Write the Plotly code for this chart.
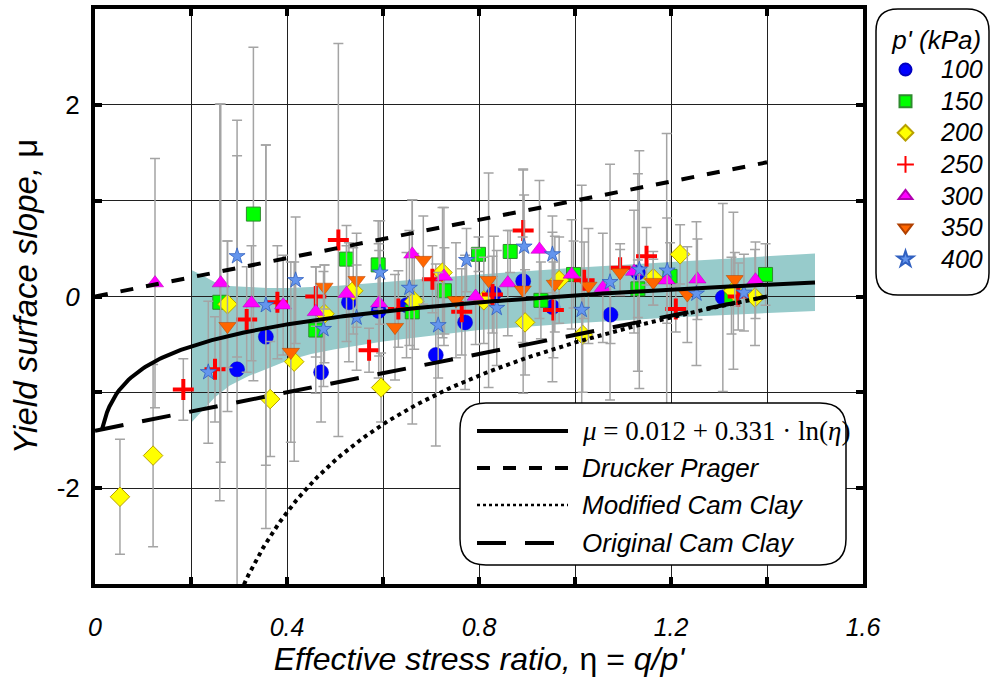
import plotly.graph_objects as go
import numpy as np

# ---- measured yield-surface slopes (mean and half-range) per confining pressure ----
eta_100 = [0.296, 0.356, 0.471, 0.529, 0.591, 0.649, 0.710, 0.771, 0.831, 0.892, 0.953, 1.074, 1.131, 1.308]
mu_100 = [-0.76, -0.42, -0.79, -0.06, -0.15, -0.09, -0.61, -0.27, 0.03, 0.16, -0.11, -0.19, 0.25, -0.01]
err_100 = [2.60, 2.00, 0.52, 0.62, 0.70, 0.55, 0.95, 0.70, 0.60, 1.17, 0.78, 0.30, 1.03, 0.98]

eta_150 = [0.26, 0.33, 0.46, 0.524, 0.59, 0.661, 0.728, 0.799, 0.865, 0.929, 0.997, 1.131, 1.198, 1.326, 1.397]
mu_150 = [-0.06, 0.86, -0.35, 0.39, 0.33, -0.16, 0.06, 0.44, 0.47, -0.04, 0.23, 0.08, 0.21, 0.01, 0.23]
err_150 = [2.07, 1.74, 0.66, 0.35, 0.46, 1.17, 0.45, 0.18, 0.22, 0.40, 0.35, 0.30, 0.35, 0.40, 0.32]

eta_200 = [0.052, 0.121, 0.276, 0.365, 0.415, 0.478, 0.538, 0.596, 0.665, 0.724, 0.81, 0.896, 0.967, 1.016,
           1.163, 1.219, 1.33, 1.375]
mu_200 = [-2.09, -1.66, -0.08, -1.07, -0.68, -0.18, 0.06, -0.95, -0.05, 0.25, -0.04, -0.27, 0.17, -0.40,
          0.19, 0.44, 0.06, -0.01]
err_200 = [0.60, 0.95, 0.66, 0.60, 1.04, 0.51, 0.45, 0.36, 0.50, 0.68, 0.45, 0.55, 0.45, 0.60,
           0.28, 0.31, 0.82, 0.50]

eta_250 = [0.184, 0.25, 0.316, 0.38, 0.46, 0.507, 0.571, 0.632, 0.703, 0.764, 0.828, 0.892, 0.955, 1.019,
           1.094, 1.149, 1.21, 1.34]
mu_250 = [-0.97, -0.76, -0.24, -0.06, 0.0, 0.59, -0.56, -0.13, 0.18, -0.16, 0.02, 0.69, -0.14, 0.17,
          0.30, 0.42, -0.13, 0.0]
err_250 = [0.32, 0.55, 0.55, 0.59, 0.31, 2.05, 0.23, 0.40, 0.35, 0.45, 0.40, 0.63, 0.50, 0.40,
           0.25, 0.30, 0.24, 0.35]

eta_300 = [0.125, 0.262, 0.326, 0.392, 0.46, 0.524, 0.592, 0.661, 0.727, 0.793, 0.86, 0.926, 0.993, 1.058,
           1.123, 1.191, 1.255, 1.376]
mu_300 = [0.14, 0.14, -0.07, -0.09, -0.16, 0.03, -0.07, 0.44, 0.21, 0.0, 0.14, 0.49, 0.23, 0.09,
          0.26, 0.17, 0.18, 0.17]
err_300 = [1.30, 1.87, 0.60, 0.52, 0.47, 0.50, 0.55, 0.57, 0.72, 0.50, 0.55, 0.72, 0.57, 0.57,
           0.64, 1.53, 0.42, 0.40]

eta_350 = [0.276, 0.408, 0.478, 0.545, 0.625, 0.684, 0.752, 0.82, 0.891, 0.958, 1.028, 1.094, 1.163, 1.234, 1.333]
mu_350 = [-0.31, -0.58, 0.10, 0.17, -0.32, 0.38, -0.04, 0.17, 0.07, 0.13, 0.11, 0.25, 0.15, 0.02, 0.18]
err_350 = [0.89, 0.94, 0.23, 0.49, 0.55, 0.46, 0.60, 1.12, 0.55, 0.50, 0.60, 0.24, 0.24, 0.50, 0.28]

eta_400 = [0.236, 0.296, 0.356, 0.418, 0.476, 0.545, 0.594, 0.655, 0.715, 0.774, 0.837, 0.894, 0.953, 1.014,
           1.073, 1.134, 1.192, 1.253, 1.352]
mu_400 = [-0.79, 0.42, -0.09, 0.17, -0.34, -0.22, 0.25, 0.09, -0.30, 0.38, -0.12, 0.52, 0.44, -0.14,
          0.15, 0.28, 0.27, 0.03, 0.04]
err_400 = [0.74, 1.05, 1.67, 0.66, 0.60, 0.55, 0.54, 0.60, 0.55, 0.33, 0.60, 0.54, 0.40, 1.30,
           1.23, 1.24, 0.55, 0.75, 0.40]

# ---- confidence band of the logarithmic fit ----
band_eta = [0.2, 0.22, 0.25, 0.28, 0.32, 0.36, 0.4, 0.45, 0.5, 0.6, 0.7, 0.8, 1.0, 1.2, 1.5]
band_upper = [0.28, 0.23, 0.15, 0.11, 0.10, 0.09, 0.09, 0.10, 0.11, 0.15, 0.19, 0.23, 0.30, 0.36, 0.45]
band_lower = [-1.32, -1.21, -1.05, -0.93, -0.83, -0.75, -0.67, -0.60, -0.55, -0.47, -0.41, -0.35, -0.28, -0.22, -0.15]

# ---- fitted law and reference models ----
fit_a, fit_b = 0.012, 0.331
fit_eta_min, fit_eta_max = 0.015, 1.5
M_cs = 1.4  # critical state stress ratio

x_tickvals = [0, 0.2, 0.4, 0.6, 0.8, 1.0, 1.2, 1.4, 1.6]
x_ticktext = ["<i>0</i>", "", "<i>0.4</i>", "", "<i>0.8</i>", "", "<i>1.2</i>", "", "<i>1.6</i>"]
y_tickvals = [-2, -1, 0, 1, 2]
y_ticktext = ["-2", "", "<i>0</i>", "", "2"]

series = [
    ("100", eta_100, mu_100, err_100, dict(symbol="circle", size=15, color="#0000FF",
                                           line=dict(color="#0000C0", width=0.5))),
    ("150", eta_150, mu_150, err_150, dict(symbol="square", size=14, color="#00FF00",
                                           line=dict(color="#2E8B2E", width=1))),
    ("200", eta_200, mu_200, err_200, dict(symbol="diamond", size=15, color="#FFFF00",
                                           line=dict(color="#B8A000", width=1))),
    ("250", eta_250, mu_250, err_250, dict(symbol="cross-thin", size=15, color="#FF0000",
                                           line=dict(color="#FF0000", width=4))),
    ("300", eta_300, mu_300, err_300, dict(symbol="triangle-up", size=15, color="#FF00FF",
                                           line=dict(color="#B000B0", width=0.5))),
    ("350", eta_350, mu_350, err_350, dict(symbol="triangle-down", size=15, color="#FF6600",
                                           line=dict(color="#B04000", width=0.5))),
    ("400", eta_400, mu_400, err_400, dict(symbol="star", size=12, color="#6495ED",
                                           line=dict(color="#3060C0", width=0.8))),
]

FONT = "Liberation Sans, Arial, sans-serif"
FIG_W, FIG_H = 992, 678

fig = go.Figure()

# plot-area geometry in pixels (used for the hand-drawn line legend and boxes)
L, T, W, H = 95, 9, 768, 575


def px2paper(px, py):
    return (px - L) / W, (T + H - py) / H


def rounded_box(x0, y0, x1, y1, r):
    pts = [("M", [(x0 + r, y0)]), ("L", [(x1 - r, y0)]), ("Q", [(x1, y0), (x1, y0 + r)]),
           ("L", [(x1, y1 - r)]), ("Q", [(x1, y1), (x1 - r, y1)]), ("L", [(x0 + r, y1)]),
           ("Q", [(x0, y1), (x0, y1 - r)]), ("L", [(x0, y0 + r)]), ("Q", [(x0, y0), (x0 + r, y0)])]
    parts = []
    for cmd, coords in pts:
        c = " ".join("%.5f,%.5f" % px2paper(a, b) for a, b in coords)
        parts.append(cmd + c)
    return " ".join(parts) + " Z"


# band drawn under the gridlines
band_path = "M" + " L".join("%g,%g" % (x, y) for x, y in zip(band_eta, band_upper))
band_path += " L" + " L".join("%g,%g" % (x, y) for x, y in zip(band_eta[::-1], band_lower[::-1])) + " Z"
fig.add_shape(type="path", path=band_path, xref="x", yref="y", fillcolor="#97CBCB",
              line=dict(width=0), layer="below")

# measured points with scatter bars
for name, ex, mu, er, mk in series:
    fig.add_trace(go.Scatter(
        x=ex, y=mu, mode="markers", name="<span style='font-size:25px'>%s</span>" % name, marker=mk,
        error_y=dict(type="data", array=er, visible=True, color="#A4A4A4", thickness=1.5, width=5),
    ))

# fitted curve
eta_fit = np.linspace(fit_eta_min, fit_eta_max, 300)
fig.add_trace(go.Scatter(x=eta_fit, y=fit_a + fit_b * np.log(eta_fit), mode="lines",
                         line=dict(color="black", width=4), showlegend=False))
# Drucker-Prager
eta_dp = np.linspace(0, M_cs, 50)
fig.add_trace(go.Scatter(x=eta_dp, y=eta_dp, mode="lines",
                         line=dict(color="black", width=4, dash="13px,13px"), showlegend=False))
# Modified Cam Clay
eta_mcc = np.linspace(0.29, M_cs, 300)
fig.add_trace(go.Scatter(x=eta_mcc, y=(eta_mcc ** 2 - M_cs ** 2) / (2 * eta_mcc), mode="lines",
                         line=dict(color="black", width=4, dash="4px,4px"), showlegend=False))
# Original Cam Clay
eta_occ = np.linspace(0, M_cs, 50)
fig.add_trace(go.Scatter(x=eta_occ, y=eta_occ - M_cs, mode="lines",
                         line=dict(color="black", width=4, dash="29px,19px"), showlegend=False))

# boxes for both legends
fig.add_shape(type="path", path=rounded_box(876, 9, 989, 295, 22), xref="paper", yref="paper",
              fillcolor="white", line=dict(color="black", width=1.5), layer="above")
fig.add_shape(type="path", path=rounded_box(460, 403, 846, 565, 26), xref="paper", yref="paper",
              fillcolor="white", line=dict(color="black", width=1.5), layer="above")

# line legend entries
line_items = [
    ("<i>μ</i> = 0.012 + 0.331 · ln(<i>η</i>)", "solid", 4, 431, "Liberation Serif, Times New Roman, serif", 27),
    ("<i>Drucker Prager</i>", "13px,13px", 4, 468, FONT, 26),
    ("<i>Modified Cam Clay</i>", "dot", 2.5, 505, FONT, 26),
    ("<i>Original Cam Clay</i>", "29px,19px", 4, 543, FONT, 26),
]
for text, dash, lw, py, fam, fs in line_items:
    x0, y0 = px2paper(477, py)
    x1, _ = px2paper(568, py)
    fig.add_shape(type="line", x0=x0, x1=x1, y0=y0, y1=y0, xref="paper", yref="paper",
                  line=dict(color="black", width=lw, dash=dash), layer="above")
    tx, ty = px2paper(580, py)
    fig.add_annotation(x=tx, y=ty, xref="paper", yref="paper", text=text, showarrow=False,
                       xanchor="left", yanchor="middle", font=dict(family=fam, size=fs, color="black"))

fig.update_layout(
    width=FIG_W, height=FIG_H,
    margin=dict(l=L, r=FIG_W - L - W, t=T, b=FIG_H - T - H, autoexpand=False),
    paper_bgcolor="white", plot_bgcolor="white",
    font=dict(family=FONT, color="black"),
    showlegend=True,
    legend=dict(x=870 / FIG_W, y=1 - 15 / FIG_H, xref="container", yref="container",
                xanchor="left", yanchor="top", bgcolor="rgba(0,0,0,0)", borderwidth=0,
                font=dict(family=FONT, size=22, style="italic"), itemsizing="constant", itemwidth=61,
                title=dict(text="&nbsp;&nbsp;<i>p' (kPa)</i>", side="top center",
                           font=dict(family=FONT, size=26))),
    xaxis=dict(range=[0, 1.6], tickvals=x_tickvals, ticktext=x_ticktext, automargin=False,
               showgrid=True, gridcolor="#202020", gridwidth=1, zeroline=False,
               showline=True, linecolor="black", linewidth=4, mirror="allticks",
               ticks="inside", ticklen=7, tickwidth=4, tickcolor="black", ticklabelstandoff=18,
               tickfont=dict(family=FONT, size=25),
               title=dict(text="<i>Effective stress ratio,</i> η = <i>q/p'</i>",
                          font=dict(family=FONT, size=32), standoff=9)),
    yaxis=dict(range=[-3, 3], tickvals=y_tickvals, ticktext=y_ticktext, automargin=False,
               showgrid=True, gridcolor="#202020", gridwidth=1, zeroline=False,
               showline=True, linecolor="black", linewidth=4, mirror="allticks",
               ticks="inside", ticklen=7, tickwidth=4, tickcolor="black", ticklabelstandoff=6,
               tickfont=dict(family=FONT, size=26),
               title=dict(text="<i>Yield surface slope,</i> μ",
                          font=dict(family=FONT, size=33), standoff=10)),
)

fig.write_html("out.html")
